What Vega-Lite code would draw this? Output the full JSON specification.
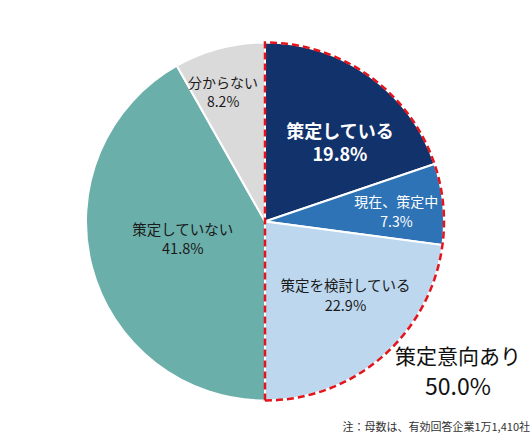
{
  "$schema": "https://vega.github.io/schema/vega-lite/v6.json",
  "width": 530,
  "height": 443,
  "padding": 0,
  "autosize": {"type": "none"},
  "background": "white",
  "config": {"view": {"stroke": null}, "font": "Noto Sans CJK JP"},
  "title": {
    "text": "注：母数は、有効回答企業1万1,410社",
    "orient": "bottom",
    "anchor": "end",
    "offset": -21,
    "fontSize": 11,
    "fontWeight": "normal",
    "color": "#333333",
    "font": "Noto Sans CJK JP"
  },
  "data": {
    "values": [
      {"cat": "策定している", "value": 19.8, "group": "策定意向あり", "order": 1},
      {"cat": "現在、策定中", "value": 7.3, "group": "策定意向あり", "order": 2},
      {"cat": "策定を検討している", "value": 22.9, "group": "策定意向あり", "order": 3},
      {"cat": "策定していない", "value": 41.8, "group": "その他", "order": 4},
      {"cat": "分からない", "value": 8.2, "group": "その他", "order": 5}
    ]
  },
  "transform": [
    {"calculate": "datum.cat + '\\n' + format(datum.value, '.1f') + '%'", "as": "label"}
  ],
  "encoding": {
    "theta": {"field": "value", "type": "quantitative", "stack": true},
    "order": {"field": "order", "type": "quantitative"}
  },
  "layer": [
    {
      "mark": {"type": "arc", "outerRadius": 179, "stroke": "white", "strokeWidth": 2},
      "encoding": {
        "color": {
          "field": "cat",
          "type": "nominal",
          "scale": {
            "domain": ["策定している", "現在、策定中", "策定を検討している", "策定していない", "分からない"],
            "range": ["#11326b", "#2e73b5", "#bdd7ee", "#6bafaa", "#dadada"]
          },
          "legend": null
        }
      }
    },
    {
      "transform": [
        {"filter": "datum.group === '策定意向あり'"},
        {"aggregate": [{"op": "sum", "field": "value", "as": "value"}, {"op": "min", "field": "order", "as": "order"}], "groupby": ["group"]}
      ],
      "mark": {"type": "arc", "outerRadius": 179, "fill": "transparent", "stroke": "#e3141c", "strokeWidth": 2.5, "strokeDash": [7, 4]}
    },
    {
      "mark": {"type": "text", "radius": 108, "dx": 12, "dy": -1, "fontSize": 18, "fontWeight": "bold", "lineHeight": 23, "lineBreak": "\n", "color": "white"},
      "encoding": {"text": {"condition": {"test": "datum.cat === '策定している'", "field": "label", "type": "nominal"}, "value": ""}}
    },
    {
      "mark": {"type": "text", "radius": 132, "dy": -6, "fontSize": 14, "lineHeight": 20, "lineBreak": "\n", "color": "white"},
      "encoding": {"text": {"condition": {"test": "datum.cat === '現在、策定中'", "field": "label", "type": "nominal"}, "value": ""}}
    },
    {
      "mark": {"type": "text", "radius": 110, "dx": 8, "dy": -17, "fontSize": 14.5, "lineHeight": 20, "lineBreak": "\n", "color": "#1a1a1a"},
      "encoding": {"text": {"condition": {"test": "datum.cat === '策定を検討している'", "field": "label", "type": "nominal"}, "value": ""}}
    },
    {
      "mark": {"type": "text", "radius": 85, "dy": -12, "fontSize": 14.5, "lineHeight": 19, "lineBreak": "\n", "color": "#1a1a1a"},
      "encoding": {"text": {"condition": {"test": "datum.cat === '策定していない'", "field": "label", "type": "nominal"}, "value": ""}}
    },
    {
      "mark": {"type": "text", "radius": 133, "dx": -8, "dy": -9, "fontSize": 14, "lineHeight": 19.5, "lineBreak": "\n", "color": "#1a1a1a"},
      "encoding": {"text": {"condition": {"test": "datum.cat === '分からない'", "field": "label", "type": "nominal"}, "value": ""}}
    },
    {
      "transform": [
        {"filter": "datum.group === '策定意向あり'"},
        {"aggregate": [{"op": "sum", "field": "value", "as": "value"}, {"op": "min", "field": "order", "as": "order"}], "groupby": ["group"]}
      ],
      "mark": {"type": "text", "radius": 193, "dy": 136, "fontSize": 21, "color": "#111111"},
      "encoding": {"text": {"field": "group", "type": "nominal"}}
    },
    {
      "transform": [
        {"filter": "datum.group === '策定意向あり'"},
        {"aggregate": [{"op": "sum", "field": "value", "as": "value"}, {"op": "min", "field": "order", "as": "order"}], "groupby": ["group"]},
        {"calculate": "format(datum.value, '.1f') + '%'", "as": "pct"}
      ],
      "mark": {"type": "text", "radius": 193, "dy": 166, "fontSize": 23, "color": "#111111"},
      "encoding": {"text": {"field": "pct", "type": "nominal"}}
    }
  ]
}
